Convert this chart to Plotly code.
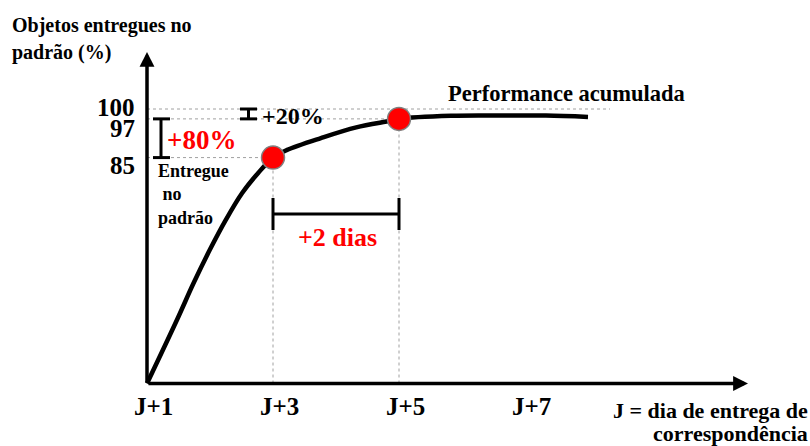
import plotly.graph_objects as go

W, H = 810, 446

# ---------------- data ----------------
day_ticks = [1, 3, 5, 7]
day_labels = ["J+1", "J+3", "J+5", "J+7"]

# accumulated performance curve (drawn height on the schematic % scale)
curve_day = [1.0, 1.482, 1.738, 1.995, 2.251, 2.508, 2.765, 3.0, 3.215,
             3.760, 4.322, 4.868, 5.0, 5.825, 6.619, 7.333, 8.0]
curve_pct = [0.0, 23.5, 36.5, 48.6, 59.6, 69.3, 76.7, 82.3, 85.0,
             89.4, 93.3, 95.7, 96.4, 97.5, 97.6, 97.6, 97.1]

# highlighted points (J+3 -> 85 %, J+5 -> 97 %)
point_day = [3, 5]
point_pct = [82.3, 96.4]

level_labels = ["100", "97", "85"]
level_pct = [100, 96.4, 82.3]

# ---------------- geometry helpers (pixel -> axis units) ----------------
PX_PER_DAY = 63.0
X0_PX = 147.0        # pixel of J+1 (y axis)
Y0_PX = 383.5        # pixel of 0 % (x axis)
PX_PER_PCT = 2.745


def dx(px):
    return 1 + (px - X0_PX) / PX_PER_DAY


def vy(py):
    return (Y0_PX - py) / PX_PER_PCT


def pp(px, py):
    return px / W, 1 - py / H


FONT = "Liberation Serif"
RED = "#FF0000"

fig = go.Figure()

fig.add_trace(go.Scatter(
    x=curve_day, y=curve_pct, mode="lines",
    line=dict(color="black", width=4.5, shape="spline", smoothing=1.0),
    hoverinfo="skip", showlegend=False))

fig.add_trace(go.Scatter(
    x=point_day, y=point_pct, mode="markers",
    marker=dict(size=23, color=RED, line=dict(color="#808080", width=1.5)),
    hoverinfo="skip", showlegend=False))

shapes = []
dash = dict(color="#a0a0a0", width=1, dash="3px,3px")
# horizontal guide lines
shapes.append(dict(type="line", xref="x", yref="y", x0=1, x1=dx(610),
                   y0=level_pct[0], y1=level_pct[0], line=dash, layer="below"))
shapes.append(dict(type="line", xref="x", yref="y", x0=1, x1=point_day[1],
                   y0=level_pct[1], y1=level_pct[1], line=dash, layer="below"))
shapes.append(dict(type="line", xref="x", yref="y", x0=1, x1=point_day[0],
                   y0=level_pct[2], y1=level_pct[2], line=dash, layer="below"))
# vertical guide lines
for d, p in zip(point_day, point_pct):
    shapes.append(dict(type="line", xref="x", yref="y", x0=d, x1=d,
                       y0=0, y1=p, line=dash, layer="below"))

blk = dict(color="black", width=3)
# +80% bracket
bx = dx(161)
shapes.append(dict(type="line", x0=bx, x1=bx, y0=level_pct[2], y1=level_pct[1], line=blk))
for lv in (level_pct[1], level_pct[2]):
    shapes.append(dict(type="line", x0=dx(153), x1=dx(170), y0=lv, y1=lv, line=blk))
# +20% bracket
bx2 = dx(248.5)
shapes.append(dict(type="line", x0=bx2, x1=bx2, y0=level_pct[1], y1=level_pct[0], line=blk))
for lv in (level_pct[0], level_pct[1]):
    shapes.append(dict(type="line", x0=dx(240), x1=dx(257), y0=lv, y1=lv, line=blk))
# +2 dias bracket
hy = vy(214)
shapes.append(dict(type="line", x0=point_day[0], x1=point_day[1], y0=hy, y1=hy, line=blk))
for d in point_day:
    shapes.append(dict(type="line", x0=d, x1=d, y0=vy(198), y1=vy(230), line=blk))

ann = []
# axes with arrows
ann.append(dict(x=1, y=vy(52), ax=1, ay=0, xref="x", yref="y", axref="x", ayref="y",
                showarrow=True, arrowhead=2, arrowsize=0.85, arrowwidth=3.5,
                arrowcolor="black", text=""))
ann.append(dict(x=dx(748), y=0, ax=1, ay=0, xref="x", yref="y", axref="x", ayref="y",
                showarrow=True, arrowhead=2, arrowsize=0.85, arrowwidth=3.5,
                arrowcolor="black", text=""))

# x tick labels
for d, lab in zip(day_ticks, day_labels):
    ann.append(dict(x=d, y=0, xref="x", yref="y", text=f"<b>{lab}</b>",
                    showarrow=False, xanchor="center", yanchor="middle",
                    xshift=6, yshift=-22.5,
                    font=dict(family=FONT, size=25, color="black")))

# y level labels
level_shift = [2, -10, -8]
for lab, lv, sh in zip(level_labels, level_pct, level_shift):
    ann.append(dict(x=pp(136, 0)[0], y=lv, xref="paper", yref="y", text=f"<b>{lab}</b>",
                    showarrow=False, xanchor="right", yanchor="middle", yshift=sh,
                    borderpad=0,
                    font=dict(family=FONT, size=25, color="black")))


def text(px, py, s, size, color="black", xanchor="left"):
    x, y = pp(px, py)
    ann.append(dict(x=x, y=y, xref="paper", yref="paper", text=s, showarrow=False,
                    xanchor=xanchor, yanchor="middle", borderpad=0,
                    align=xanchor if xanchor != "center" else "center",
                    font=dict(family=FONT, size=size, color=color)))


text(11, 26, "<b>Objetos entregues no</b>", 20)
text(11, 52, "<b>padrão (%)</b>", 20)
text(809, 410, "<b>J = dia de entrega de</b>", 22, xanchor="right")
text(809, 433, "<b>correspondência</b>", 22, xanchor="right")
text(447, 93, "<b>Performance acumulada</b>", 22.5)
text(166, 140, "<b>+80%</b>", 27, RED)
text(261, 116, "<b>+20%</b>", 24)
text(337.5, 237, "<b>+2 dias</b>", 26, RED, xanchor="center")
text(157, 194.5, "<b>Entregue<br>\u00a0no<br>padrão</b>", 18)

fig.update_layout(
    width=W, height=H,
    margin=dict(l=0, r=0, t=0, b=0),
    paper_bgcolor="white", plot_bgcolor="white",
    font=dict(family=FONT),
    xaxis=dict(range=[dx(0), dx(W)], visible=False, fixedrange=True),
    yaxis=dict(range=[vy(H), vy(0)], visible=False, fixedrange=True),
    shapes=shapes, annotations=ann, showlegend=False,
)

fig.write_html("out.html")
